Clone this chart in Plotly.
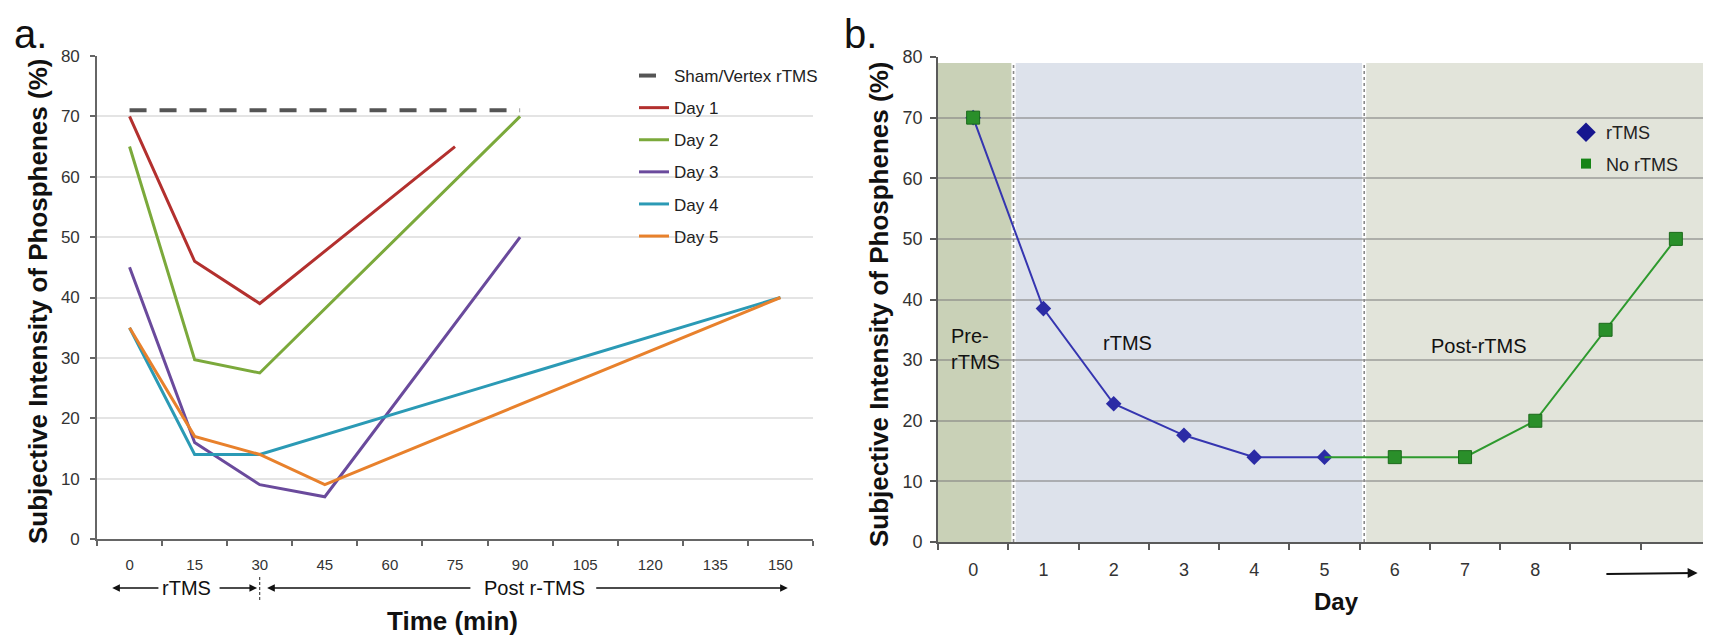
import plotly.graph_objects as go

# The page body has an 8px default margin, so the figure is drawn 8px smaller
OFF = 8
W, H = 1711 - OFF, 637 - OFF
FONT = "Liberation Sans, Arial, sans-serif"


def px(x):  # page pixel x -> paper fraction
    return (x - OFF) / W


def py(y):  # page pixel y -> paper fraction
    return 1 - (y - OFF) / H


# ---------- Panel a data ----------
time_min = [0, 15, 30, 45, 60, 75, 90, 105, 120, 135, 150]
sham = [71, 71, 71, 71, 71, 71, 71, None, None, None, None]
day1 = [70, 46, 39, None, None, 65, None, None, None, None, None]
day2 = [65, 29.7, 27.5, None, None, None, 70, None, None, None, None]
day3 = [45, 16, 9, 7, None, None, 50, None, None, None, None]
day4 = [35, 14, 14, None, None, None, None, None, None, None, 40]
day5 = [35, 17, 14, 9, None, None, None, None, None, None, 40]
series_names_a = ["Sham/Vertex rTMS", "Day 1", "Day 2", "Day 3", "Day 4", "Day 5"]

# ---------- Panel b data ----------
days = [0, 1, 2, 3, 4, 5, 6, 7, 8, 9, 10]
day_labels = ["0", "1", "2", "3", "4", "5", "6", "7", "8", "", ""]
rtms = [70, 38.5, 22.8, 17.6, 14, 14, None, None, None, None, None]
no_rtms = [70, None, None, None, None, 14, 14, 14, 20, 35, 50]
y_ticks = [0, 10, 20, 30, 40, 50, 60, 70, 80]

fig = go.Figure()

colors_a = ["#555555", "#B3302E", "#7BA93B", "#6A4A9C", "#2B9AB5", "#E8812C"]
series_a = [sham, day1, day2, day3, day4, day5]
for i, (name, ys, col) in enumerate(zip(series_names_a, series_a, colors_a)):
    fig.add_trace(go.Scatter(
        x=time_min, y=ys, name=name, mode="lines", connectgaps=True,
        line=dict(color=col, width=4 if i == 0 else 3,
                  dash="17px,13px" if i == 0 else "solid"),
        xaxis="x", yaxis="y", legend="legend", legendgroup=name,
    ))

# panel b traces
blue = "#2B2BA5"
green = "#2A8F2A"
fig.add_trace(go.Scatter(
    x=days, y=rtms, mode="lines+markers", showlegend=False,
    line=dict(color="#3535B0", width=2),
    marker=dict(symbol="diamond", size=12, color=blue, opacity=1),
    xaxis="x2", yaxis="y2",
))
fig.add_trace(go.Scatter(
    x=days, y=no_rtms, mode="lines+markers", showlegend=False, connectgaps=False,
    line=dict(color="#2E9A2E", width=2),
    marker=dict(symbol="square", size=[13 if i != 5 else 0 for i in range(len(days))],
                color=green, opacity=1, line=dict(color="#1B6A1B", width=1)),
    xaxis="x2", yaxis="y2",
))
# legend-only entries for panel b
fig.add_trace(go.Scatter(x=[None], y=[None], mode="markers", name="rTMS",
                         marker=dict(symbol="diamond", size=15, color="#16168F"),
                         xaxis="x2", yaxis="y2", legend="legend2", legendgroup="b1"))
fig.add_trace(go.Scatter(x=[None], y=[None], mode="markers", name="No rTMS",
                         marker=dict(symbol="square", size=10, color="#168416"),
                         xaxis="x2", yaxis="y2", legend="legend2", legendgroup="b2"))

# background bands for panel b
bands = [(-0.5, 0.55, "#C9D1B7"), (0.6, 5.54, "#DDE2EB"), (5.59, 10.5, "#E2E4DA")]
shapes = []
for x0, x1, c in bands:
    shapes.append(dict(type="rect", xref="x2", yref="y2", x0=x0, x1=x1, y0=0, y1=79,
                       fillcolor=c, line=dict(width=0), layer="below"))
for xd in (0.575, 5.565):
    shapes.append(dict(type="line", xref="x2", yref="y2", x0=xd, x1=xd, y0=0, y1=79,
                       line=dict(color="white", width=4), layer="below"))
    shapes.append(dict(type="line", xref="x2", yref="y2", x0=xd, x1=xd, y0=0, y1=79,
                       line=dict(color="#8A8A8A", width=1.6, dash="dot"), layer="between"))
# dashed separator at 30 min in panel a annotation row
shapes.append(dict(type="line", xref="x", yref="paper", x0=30, x1=30, y0=py(600), y1=py(575),
                   line=dict(color="#222", width=1, dash="3px,2px")))


def txt(text, x, y, size, xref="paper", yref="paper", **kw):
    d = dict(text=text, x=x, y=y, xref=xref, yref=yref, showarrow=False,
             xanchor="center", yanchor="middle", font=dict(size=size, color="#111"))
    d.update(kw)
    return d


ann = []
# panel labels
ann.append(txt("a.", px(12), py(10), 40, xanchor="left", yanchor="top"))
ann.append(txt("b.", px(842), py(10), 40, xanchor="left", yanchor="top"))
# y titles
ytitle = "<b>Subjective Intensity of Phosphenes (%)</b>"
ann.append(txt(ytitle, px(38), py(302), 26, textangle=-90))
ann.append(txt(ytitle, px(879), py(304), 26, textangle=-90))
# x titles
ann.append(txt("<b>Time (min)</b>", px(452), py(621), 26))
ann.append(txt("<b>Day</b>", px(1336), py(601), 24))
# panel a bottom phase labels
yrow = py(588)
ann.append(txt("rTMS", 13.2, yrow, 20, xref="x"))
ann.append(txt("Post r-TMS", 93.4, yrow, 20, xref="x"))
for head, tail in [(-4.0, 7.0), (29.4, 20.4), (31.7, 78.9), (151.7, 107.2)]:
    ann.append(dict(text="", x=head, y=yrow, xref="x", yref="paper", ax=tail, ay=0,
                    axref="x", ayref="pixel", showarrow=True, arrowhead=2, arrowsize=1.1,
                    arrowwidth=1.4, arrowcolor="#111"))
# panel b phase labels
ann.append(txt("Pre-<br>rTMS", -0.34, 31.9, 20, xref="x2", yref="y2", xanchor="left",
               align="left"))
ann.append(txt("rTMS", 2.2, 32.8, 20, xref="x2", yref="y2"))
ann.append(txt("Post-rTMS", 7.2, 32.3, 20, xref="x2", yref="y2"))
ann.append(dict(text="", x=10.31, y=py(573), xref="x2", yref="paper", ax=8.99, ay=1,
                axref="x2", ayref="pixel", showarrow=True, arrowhead=2, arrowsize=1.0,
                arrowwidth=2, arrowcolor="#111"))

fig.update_layout(
    width=W, height=H,
    margin=dict(l=0, r=0, t=0, b=0, autoexpand=False),
    paper_bgcolor="white", plot_bgcolor="rgba(0,0,0,0)",
    font=dict(family=FONT, color="#222"),
    shapes=shapes, annotations=ann,
    xaxis=dict(domain=[px(97), px(813)], range=[-7.5, 157.5], tickvals=time_min,
               ticks="", showgrid=False, zeroline=False, showline=True, automargin=False,
               linecolor="#666", linewidth=1.6, tickfont=dict(size=15, color="#333"),
               ticklabelstandoff=11,
               minor=dict(ticks="outside", tick0=7.5, dtick=15, ticklen=5,
                          tickcolor="#666", tickwidth=1.5, showgrid=False),
               anchor="y"),
    yaxis=dict(domain=[py(539), py(56)], range=[0, 80], tickvals=y_ticks,
               ticks="outside", ticklen=5, tickcolor="#666", tickwidth=1.5,
               showline=True, linecolor="#666", linewidth=1.6, automargin=False,
               gridcolor="#E4E4E4", gridwidth=1.5, zeroline=False, ticklabelstandoff=7,
               tickfont=dict(size=17, color="#333"), anchor="x"),
    xaxis2=dict(domain=[px(938), 1.0], range=[-0.5, 10.5], tickvals=days,
                ticktext=day_labels, ticks="", showgrid=False, zeroline=False,
                showline=True, linecolor="#5A5A5A", linewidth=1.6, automargin=False,
                tickfont=dict(size=18, color="#333"), ticklabelstandoff=11,
                minor=dict(ticks="outside", tick0=0.5, dtick=1, ticklen=6,
                           tickcolor="#5A5A5A", tickwidth=1.5, showgrid=False),
                anchor="y2"),
    yaxis2=dict(domain=[py(542), py(57)], range=[0, 80], tickvals=y_ticks,
                ticks="outside", ticklen=6, tickcolor="#5A5A5A", tickwidth=1.5,
                showline=True, linecolor="#5A5A5A", linewidth=1.6, automargin=False,
                gridcolor="rgba(130,130,130,0.55)", gridwidth=1.5, zeroline=False,
                tickfont=dict(size=18, color="#333"), ticklabelstandoff=4, anchor="x2"),
    legend=dict(x=px(634), y=py(58), xanchor="left", yanchor="top",
                font=dict(size=17, color="#222"), itemwidth=30, tracegroupgap=7,
                bgcolor="rgba(0,0,0,0)"),
    legend2=dict(x=px(1566), y=py(114), xanchor="left", yanchor="top",
                 font=dict(size=18, color="#222"), itemwidth=30, tracegroupgap=5,
                 bgcolor="rgba(0,0,0,0)"),
    showlegend=True,
)

fig.write_html("out.html")
